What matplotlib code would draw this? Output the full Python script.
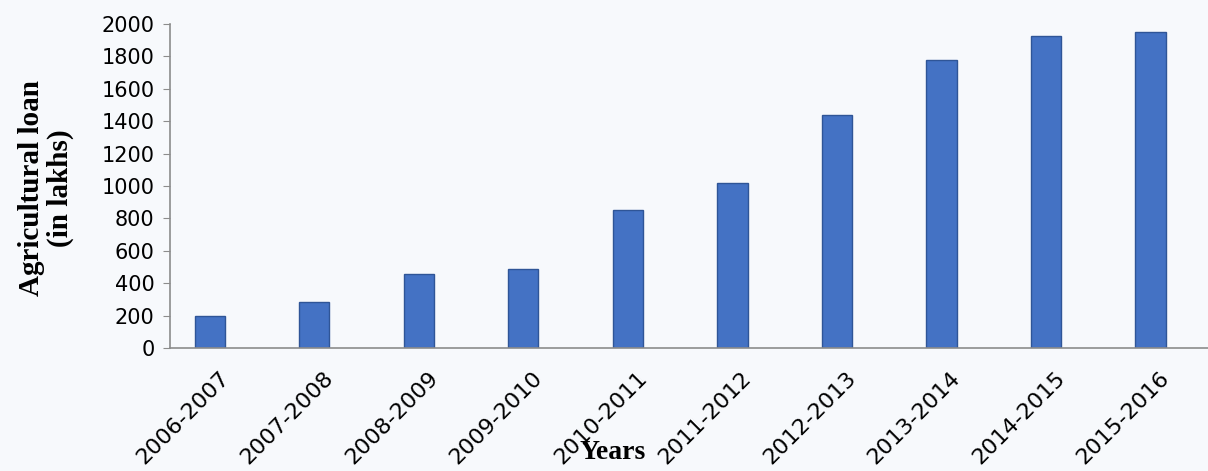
import matplotlib.pyplot as plt
import matplotlib.transforms as mtransforms

years = ['2006-2007', '2007-2008', '2008-2009', '2009-2010', '2010-2011',
         '2011-2012', '2012-2013', '2013-2014', '2014-2015', '2015-2016']
loan_lakhs = [200, 285, 460, 490, 855, 1020, 1440, 1775, 1925, 1950]
y_ticks = [0, 200, 400, 600, 800, 1000, 1200, 1400, 1600, 1800, 2000]

BAR_COLOR = '#4472C4'
EDGE_COLOR = '#2F5597'
AXIS_COLOR = '#8C8C8C'

fig = plt.figure(figsize=(12.08, 4.71), dpi=100)
fig.patch.set_facecolor('#F7F9FC')
ax = fig.add_axes([0.1407, 0.261, 0.8593, 0.688])
ax.set_facecolor('none')

x = list(range(len(years)))
ax.bar(x, loan_lakhs, width=0.29, color=BAR_COLOR, edgecolor=EDGE_COLOR, linewidth=1)

ax.set_ylim(0, 2000)
ax.set_xlim(-0.38, 9.55)
ax.set_yticks(y_ticks)
ax.set_yticklabels([str(t) for t in y_ticks], fontsize=15, family='DejaVu Sans')

# category labels drawn by hand so they sit right of the tick, like the Excel original
ax.set_xticks(x)
ax.set_xticklabels([])
label_trans = ax.get_xaxis_transform() + mtransforms.ScaledTranslation(0.16, -0.27, fig.dpi_scale_trans)
for i, name in zip(x, years):
    ax.text(i, 0, name, transform=label_trans, rotation=45, ha='right', va='center',
            rotation_mode='anchor', fontsize=16, family='DejaVu Sans')

ax.tick_params(axis='x', length=0)
ax.tick_params(axis='y', length=5, color=AXIS_COLOR, pad=6)

for side in ['top', 'right']:
    ax.spines[side].set_visible(False)
for side in ['left', 'bottom']:
    ax.spines[side].set_color(AXIS_COLOR)
    ax.spines[side].set_linewidth(1.2)

fig.text(0.038, 0.6, 'Agricultural loan\n(in lakhs)', rotation=90, ha='center', va='center',
         fontsize=21, fontweight='bold', family='Liberation Serif', linespacing=1.05)
fig.text(0.507, 0.04, 'Years', ha='center', va='center',
         fontsize=20, fontweight='bold', family='Liberation Serif')

fig.savefig('out.png', dpi=100, facecolor=fig.get_facecolor())
